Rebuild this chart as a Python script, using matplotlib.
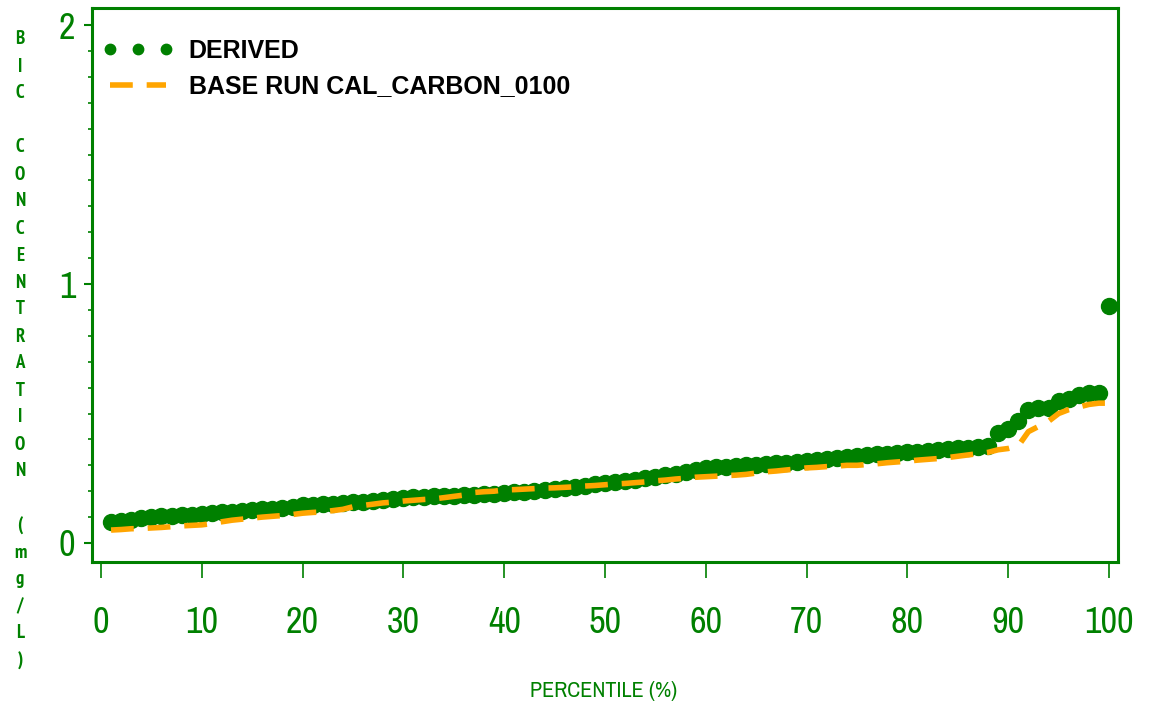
import matplotlib
matplotlib.use('Agg')
import matplotlib.pyplot as plt
from matplotlib.ticker import MultipleLocator

# percentile of each value
pct = list(range(1, 101))

# derived BIC concentration (mg/L)
derived = [0.08, 0.085, 0.09, 0.095, 0.10, 0.103, 0.106, 0.108, 0.11, 0.112,
           0.115, 0.118, 0.12, 0.123, 0.126, 0.13, 0.133, 0.137, 0.14, 0.145,
           0.147, 0.15, 0.152, 0.155, 0.157, 0.16, 0.163, 0.166, 0.17, 0.174,
           0.176, 0.178, 0.18, 0.181, 0.183, 0.185, 0.186, 0.188, 0.19, 0.193,
           0.195, 0.198, 0.20, 0.204, 0.208, 0.212, 0.217, 0.222, 0.226, 0.23,
           0.235, 0.24, 0.245, 0.25, 0.256, 0.262, 0.268, 0.274, 0.28, 0.288,
           0.292, 0.295, 0.298, 0.30, 0.303, 0.305, 0.308, 0.31, 0.313, 0.318,
           0.32, 0.323, 0.327, 0.332, 0.337, 0.34, 0.342, 0.344, 0.346, 0.35,
           0.353, 0.356, 0.36, 0.362, 0.365, 0.367, 0.37, 0.375, 0.425, 0.44,
           0.47, 0.515, 0.52, 0.522, 0.55, 0.555, 0.57, 0.58, 0.58, 0.915]

# base run CAL_CARBON_0100
base_run = [0.05, 0.052, 0.055, 0.056, 0.058, 0.06, 0.063, 0.066, 0.068, 0.07,
            0.075, 0.082, 0.088, 0.092, 0.096, 0.10, 0.103, 0.106, 0.11, 0.115,
            0.118, 0.12, 0.125, 0.13, 0.14, 0.145, 0.15, 0.155, 0.158, 0.162,
            0.165, 0.168, 0.17, 0.175, 0.18, 0.185, 0.195, 0.198, 0.20, 0.205,
            0.206, 0.208, 0.21, 0.212, 0.213, 0.215, 0.217, 0.22, 0.222, 0.225,
            0.228, 0.23, 0.233, 0.236, 0.24, 0.243, 0.247, 0.25, 0.254, 0.256,
            0.258, 0.26, 0.262, 0.265, 0.27, 0.275, 0.278, 0.282, 0.286, 0.29,
            0.292, 0.295, 0.297, 0.30, 0.30, 0.303, 0.306, 0.31, 0.313, 0.316,
            0.32, 0.323, 0.326, 0.33, 0.335, 0.34, 0.345, 0.35, 0.36, 0.365,
            0.375, 0.43, 0.45, 0.47, 0.50, 0.515, 0.525, 0.535, 0.54, 0.54]

ylabel_text = 'BIC CONCENTRATION (mg/L)'

narrow = ['Archivo Narrow', 'DejaVu Sans']
narrow_bold = ['PT Sans Narrow', 'DejaVu Sans']

W, H = 1162, 704
fig = plt.figure(figsize=(W / 100, H / 100), dpi=100)
ax = fig.add_axes([92 / W, 1 - 562 / H, (1118 - 92) / W, (562 - 8) / H])

ax.plot(pct, derived, 'o', color='green', ms=11.5, mec='green', label='DERIVED')
ax.plot(pct, base_run, color='orange', lw=4, dashes=(4.1, 2.5),
        dash_capstyle='butt', label='BASE RUN CAL_CARBON_0100')

ax.set_xlim(-0.89, 100.89)
ax.set_ylim(-0.0734, 2.066)
ax.xaxis.set_major_locator(MultipleLocator(10))
ax.yaxis.set_major_locator(MultipleLocator(1))
ax.yaxis.set_minor_locator(MultipleLocator(0.1))

for s in ax.spines.values():
    s.set_color('green')
    s.set_linewidth(2.2)

ax.tick_params(axis='x', direction='out', length=11.5, width=1.2, color='green',
               pad=20, labelcolor='green', labelsize=26)
ax.tick_params(axis='y', which='major', direction='out', length=6, width=1.5,
               color='green', pad=6, labelcolor='green', labelsize=26)
ax.tick_params(axis='y', which='minor', direction='out', length=3, width=1.2,
               color='green')
for lab in ax.get_xticklabels() + ax.get_yticklabels():
    lab.set_family(narrow)

leg = ax.legend(loc='upper left', bbox_to_anchor=(-0.002, 0.9675), frameon=False,
                prop={'family': 'Liberation Sans', 'weight': 'bold', 'size': 18},
                numpoints=3, markerscale=0.65, handlelength=2.85,
                handletextpad=0.6, labelspacing=0.47, borderpad=0.3,
                borderaxespad=0.2)

# stacked vertical axis title, one letter per line
for i, ch in enumerate(ylabel_text):
    if ch == ' ':
        continue
    fig.text(20 / W, 1 - (44.5 + 27 * i) / H, ch, ha='center', va='baseline',
             color='green', fontsize=13.5, fontweight='bold', family=narrow_bold)

fig.text(604 / W, 1 - 697 / H, 'PERCENTILE (%)', ha='center', va='baseline',
         color='green', fontsize=16, family=narrow)

fig.savefig('out.png', dpi=100)
